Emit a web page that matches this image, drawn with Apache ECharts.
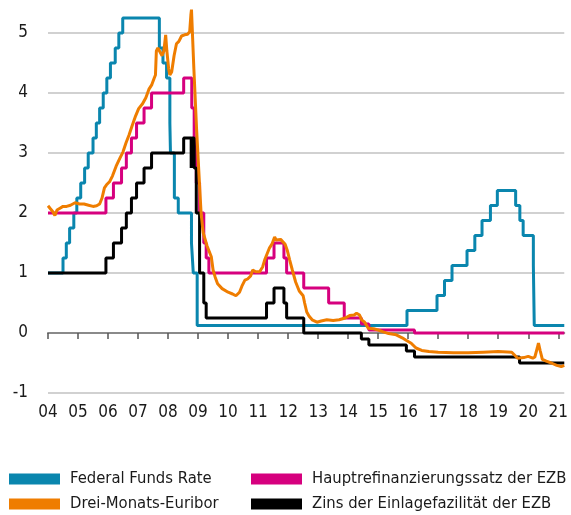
<!DOCTYPE html>
<html>
<head>
<meta charset="utf-8">
<style>
  html, body { margin: 0; padding: 0; background: #fff; }
  #chart { width: 571px; height: 515px; }
</style>
<script src="https://cdn.jsdelivr.net/npm/echarts@6/dist/echarts.min.js"></script>
</head>
<body>
<div id="chart"></div>
<script>
let tickYears = [2004, 2005, 2006, 2007, 2008, 2009, 2010, 2011, 2012, 2013, 2014, 2015, 2016, 2017, 2018, 2019, 2020, 2021];

// Federal Funds Rate (target, midpoint of range after 2008)
let fedX = [2004.0, 2004.5, 2004.61, 2004.72, 2004.86, 2004.96, 2005.09, 2005.22, 2005.34, 2005.5, 2005.61, 2005.72, 2005.84, 2005.96,
    2006.08, 2006.24, 2006.36, 2006.49, 2007.71, 2007.83, 2007.95, 2008.06, 2008.08, 2008.21, 2008.34, 2008.78, 2008.84, 2008.97,
    2015.96, 2016.96, 2017.21, 2017.46, 2017.96, 2018.22, 2018.46, 2018.74, 2018.97, 2019.58, 2019.72, 2019.83, 2020.17, 2020.2, 2021.2];
let fedY = [1.0, 1.25, 1.5, 1.75, 2.0, 2.25, 2.5, 2.75, 3.0, 3.25, 3.5, 3.75, 4.0, 4.25,
    4.5, 4.75, 5.0, 5.25, 4.75, 4.5, 4.25, 3.5, 3.0, 2.25, 2.0, 1.5, 1.0, 0.125,
    0.375, 0.625, 0.875, 1.125, 1.375, 1.625, 1.875, 2.125, 2.375, 2.125, 1.875, 1.625, 1.125, 0.125, 0.125];

// Hauptrefinanzierungssatz der EZB
let mainX = [2004.0, 2005.93, 2006.18, 2006.45, 2006.61, 2006.78, 2006.95, 2007.2, 2007.45, 2008.52, 2008.79, 2008.87, 2008.94,
    2009.05, 2009.19, 2009.27, 2009.36, 2011.28, 2011.53, 2011.86, 2011.95, 2012.52, 2013.35, 2013.87, 2014.44, 2014.69, 2016.21, 2021.2];
let mainY = [2.0, 2.25, 2.5, 2.75, 3.0, 3.25, 3.5, 3.75, 4.0, 4.25, 3.75, 3.25, 2.5,
    2.0, 1.5, 1.25, 1.0, 1.25, 1.5, 1.25, 1.0, 0.75, 0.5, 0.25, 0.15, 0.05, 0.0, 0.0];

// Zins der Einlagefazilitaet der EZB
let depoX = [2004.0, 2005.93, 2006.18, 2006.45, 2006.61, 2006.78, 2006.95, 2007.2, 2007.45, 2008.52, 2008.77, 2008.79, 2008.87, 2008.94,
    2009.05, 2009.19, 2009.27, 2011.28, 2011.53, 2011.86, 2011.95, 2012.52, 2014.44, 2014.69, 2015.94, 2016.21, 2019.71, 2021.2];
let depoY = [1.0, 1.25, 1.5, 1.75, 2.0, 2.25, 2.5, 2.75, 3.0, 3.25, 2.75, 3.25, 2.75, 2.0,
    1.0, 0.5, 0.25, 0.5, 0.75, 0.5, 0.25, 0.0, -0.1, -0.2, -0.3, -0.4, -0.5, -0.5];

// Drei-Monats-Euribor
let euriborX = [2004.0, 2004.08, 2004.15, 2004.23, 2004.3, 2004.4, 2004.5, 2004.62, 2004.75, 2004.9, 2005.05, 2005.2, 2005.35, 2005.5,
    2005.62, 2005.72, 2005.8, 2005.88, 2005.95, 2006.05, 2006.15, 2006.27, 2006.4, 2006.5, 2006.6, 2006.7, 2006.8, 2006.92,
    2007.02, 2007.15, 2007.26, 2007.36, 2007.46, 2007.54, 2007.58, 2007.61, 2007.66, 2007.72, 2007.8, 2007.86, 2007.92, 2007.96,
    2008.02, 2008.06, 2008.12, 2008.2, 2008.28, 2008.36, 2008.45, 2008.55, 2008.65, 2008.72, 2008.76, 2008.78, 2008.86, 2008.95,
    2009.04, 2009.1, 2009.17, 2009.3, 2009.44, 2009.5, 2009.57, 2009.65, 2009.8, 2010.0, 2010.15, 2010.26, 2010.38, 2010.46,
    2010.56, 2010.65, 2010.75, 2010.82, 2010.92, 2011.05, 2011.15, 2011.22, 2011.3, 2011.38, 2011.46, 2011.55, 2011.6, 2011.65,
    2011.75, 2011.81, 2011.9, 2011.97, 2012.05, 2012.14, 2012.25, 2012.37, 2012.5, 2012.55, 2012.62, 2012.7, 2012.8, 2012.96,
    2013.1, 2013.29, 2013.5, 2013.7, 2013.9, 2014.05, 2014.2, 2014.28, 2014.38, 2014.45, 2014.55, 2014.67, 2014.85, 2015.0,
    2015.17, 2015.35, 2015.6, 2015.8, 2015.93, 2016.1, 2016.26, 2016.45, 2016.69, 2017.0, 2017.5, 2018.0, 2018.5, 2019.0,
    2019.45, 2019.55, 2019.65, 2019.85, 2020.0, 2020.15, 2020.22, 2020.3, 2020.34, 2020.4, 2020.47, 2020.6, 2020.77, 2020.95,
    2021.1, 2021.2];
let euriborY = [2.12, 2.07, 2.03, 1.96, 2.05, 2.08, 2.11, 2.11, 2.13, 2.17, 2.15, 2.15, 2.13, 2.11,
    2.12, 2.15, 2.25, 2.42, 2.47, 2.52, 2.62, 2.78, 2.92, 3.02, 3.17, 3.3, 3.45, 3.62,
    3.74, 3.82, 3.92, 4.06, 4.14, 4.25, 4.3, 4.7, 4.75, 4.72, 4.62, 4.7, 4.97, 4.7,
    4.4, 4.3, 4.35, 4.62, 4.82, 4.86, 4.95, 4.97, 4.98, 5.02, 5.3, 5.39, 4.4, 3.4,
    2.55, 2.0, 1.67, 1.45, 1.27, 1.05, 0.93, 0.82, 0.74, 0.68, 0.65, 0.62, 0.68, 0.78,
    0.88, 0.9, 0.95, 1.05, 1.02, 1.02, 1.1, 1.22, 1.32, 1.42, 1.48, 1.6, 1.55, 1.52,
    1.56, 1.58, 1.48, 1.38, 1.22, 1.05, 0.85, 0.7, 0.62, 0.5, 0.35, 0.28, 0.22, 0.18,
    0.2, 0.22, 0.21, 0.22, 0.25, 0.29, 0.3, 0.33, 0.3, 0.22, 0.18, 0.08, 0.07, 0.05,
    0.02, -0.01, -0.03, -0.08, -0.12, -0.17, -0.25, -0.29, -0.31, -0.32, -0.33, -0.33, -0.32, -0.31,
    -0.32, -0.37, -0.42, -0.41, -0.39, -0.42, -0.4, -0.25, -0.17, -0.3, -0.44, -0.47, -0.5, -0.54,
    -0.56, -0.54];

let pairs = (xs, ys) => xs.map((x, i) => [x, ys[i]]);

let font = '"DejaVu Sans Condensed", "Liberation Sans", sans-serif';

let chart = echarts.init(document.getElementById('chart'));

let legendBase = {
    orient: 'vertical',
    top: 470,
    height: 44,
    padding: 0,
    icon: 'rect',
    itemWidth: 51,
    itemHeight: 11,
    itemGap: 7,
    selectedMode: false,
    textStyle: {
        fontFamily: font,
        fontSize: 16.5,
        lineHeight: 18,
        color: '#1a1a1a',
        padding: [0, 0, 0, 5]
    }
};

let option = {
    animation: false,
    backgroundColor: '#fff',
    legend: [
        Object.assign({}, legendBase, { left: 9, data: ['Federal Funds Rate', 'Drei-Monats-Euribor'] }),
        Object.assign({}, legendBase, { left: 251, data: ['Hauptrefinanzierungssatz der EZB', 'Zins der Einlagefazilität der EZB'] })
    ],
    grid: {
        left: 48,
        right: 1,
        top: 33,
        bottom: 122,
        containLabel: false
    },
    xAxis: {
        type: 'value',
        min: 2004,
        max: 2021.2,
        interval: 1,
        axisLine: { show: true, onZero: true, lineStyle: { color: '#8a8a8a', width: 2 } },
        axisTick: { show: true, length: 6, customValues: tickYears, lineStyle: { color: '#555', width: 1.5 } },
        axisLabel: {
            customValues: tickYears,
            margin: 11,
            fontFamily: font,
            fontSize: 17,
            color: '#1a1a1a',
            formatter: v => String(Math.round(v) % 100).padStart(2, '0')
        },
        splitLine: { show: false }
    },
    yAxis: {
        type: 'value',
        min: -1,
        max: 5,
        interval: 1,
        axisLine: { show: false },
        axisTick: { show: false },
        axisLabel: {
            margin: 20,
            fontFamily: font,
            fontSize: 17,
            color: '#1a1a1a'
        },
        splitLine: { show: true, lineStyle: { color: '#c2c2c2', width: 1.5 } }
    },
    series: [
        {
            name: 'Federal Funds Rate',
            type: 'line',
            step: 'end',
            showSymbol: false,
            clip: false,
            color: '#0a86ae',
            lineStyle: { width: 3 },
            z: 2,
            data: pairs(fedX, fedY)
        },
        {
            name: 'Hauptrefinanzierungssatz der EZB',
            type: 'line',
            step: 'end',
            showSymbol: false,
            clip: false,
            color: '#d6007e',
            lineStyle: { width: 3 },
            z: 3,
            data: pairs(mainX, mainY)
        },
        {
            name: 'Zins der Einlagefazilität der EZB',
            type: 'line',
            step: 'end',
            showSymbol: false,
            clip: false,
            color: '#000000',
            lineStyle: { width: 3 },
            z: 4,
            data: pairs(depoX, depoY)
        },
        {
            name: 'Drei-Monats-Euribor',
            type: 'line',
            showSymbol: false,
            clip: false,
            color: '#ef7d00',
            lineStyle: { width: 3 },
            z: 5,
            data: pairs(euriborX, euriborY)
        }
    ]
};

chart.setOption(option);
</script>
</body>
</html>
